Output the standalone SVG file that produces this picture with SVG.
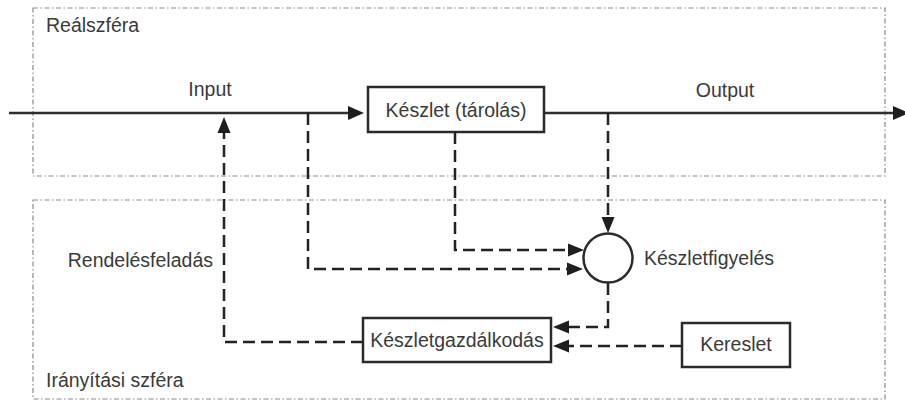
<svg xmlns="http://www.w3.org/2000/svg" width="905" height="401" viewBox="0 0 905 401">
<defs>
<style>
.region{fill:none;stroke:#8a8a8a;stroke-width:1.2;stroke-dasharray:5 2.5 1.5 2.5}
.box{fill:#fff;stroke:#2a2a2a;stroke-width:2.5}
.solid{fill:none;stroke:#2e2e2e;stroke-width:2.6}
.dash{fill:none;stroke:#222;stroke-width:2.5;stroke-dasharray:12 6}
.head{fill:#1e1e1e}
text{font-family:"Liberation Sans",Arial,sans-serif;font-size:19.5px;fill:#3a3a3a}
</style>
</defs>
<rect width="905" height="401" fill="#fff"/>
<g id="realszfera">
<rect class="region" x="33" y="8" width="852" height="168"/>
<text x="46" y="32">Reálszféra</text>
</g>
<g id="iranyitasi">
<rect class="region" x="33" y="200" width="852" height="199"/>
<text x="46" y="387">Irányítási szféra</text>
</g>
<g id="connectors">
<line class="solid" x1="9" y1="113" x2="350" y2="113"/>
<polygon class="head" points="364,113 348,106 348,120"/>
<line class="solid" x1="544" y1="113" x2="895" y2="113"/>
<polygon class="head" points="909,113 893,106 893,120"/>
<text x="210" y="96" text-anchor="middle">Input</text>
<text x="725" y="97" text-anchor="middle">Output</text>
<path class="dash" d="M308,113 V269 H569"/>
<polygon class="head" points="583,269 567,262.5 567,275.5"/>
<path class="dash" d="M455,132 V250 H569"/>
<polygon class="head" points="584,250 568,243.5 568,256.5"/>
<path class="dash" d="M608,113 V219"/>
<polygon class="head" points="608,233 601.5,217 614.5,217"/>
<path class="dash" d="M608,283 V327 H567"/>
<polygon class="head" points="553,327 569,320.5 569,333.5"/>
<path class="dash" d="M682,346 H567"/>
<polygon class="head" points="553,346 569,339.5 569,352.5"/>
<path class="dash" d="M363,342 H224 V131"/>
<polygon class="head" points="224,117 217.5,133 230.5,133"/>
<text x="213" y="267" text-anchor="end">Rendelésfeladás</text>
</g>
<g id="keszlet">
<rect class="box" x="368" y="87" width="176" height="45"/>
<text x="456" y="116.5" text-anchor="middle">Készlet (tárolás)</text>
</g>
<g id="keszletfigyeles">
<circle class="box" cx="608" cy="258" r="24.5"/>
<text x="644" y="265">Készletfigyelés</text>
</g>
<g id="keszletgazdalkodas">
<rect class="box" x="363" y="318" width="188" height="44"/>
<text x="457" y="347" text-anchor="middle">Készletgazdálkodás</text>
</g>
<g id="kereslet">
<rect class="box" x="682" y="323" width="108" height="44"/>
<text x="736" y="351" text-anchor="middle">Kereslet</text>
</g>
</svg>
